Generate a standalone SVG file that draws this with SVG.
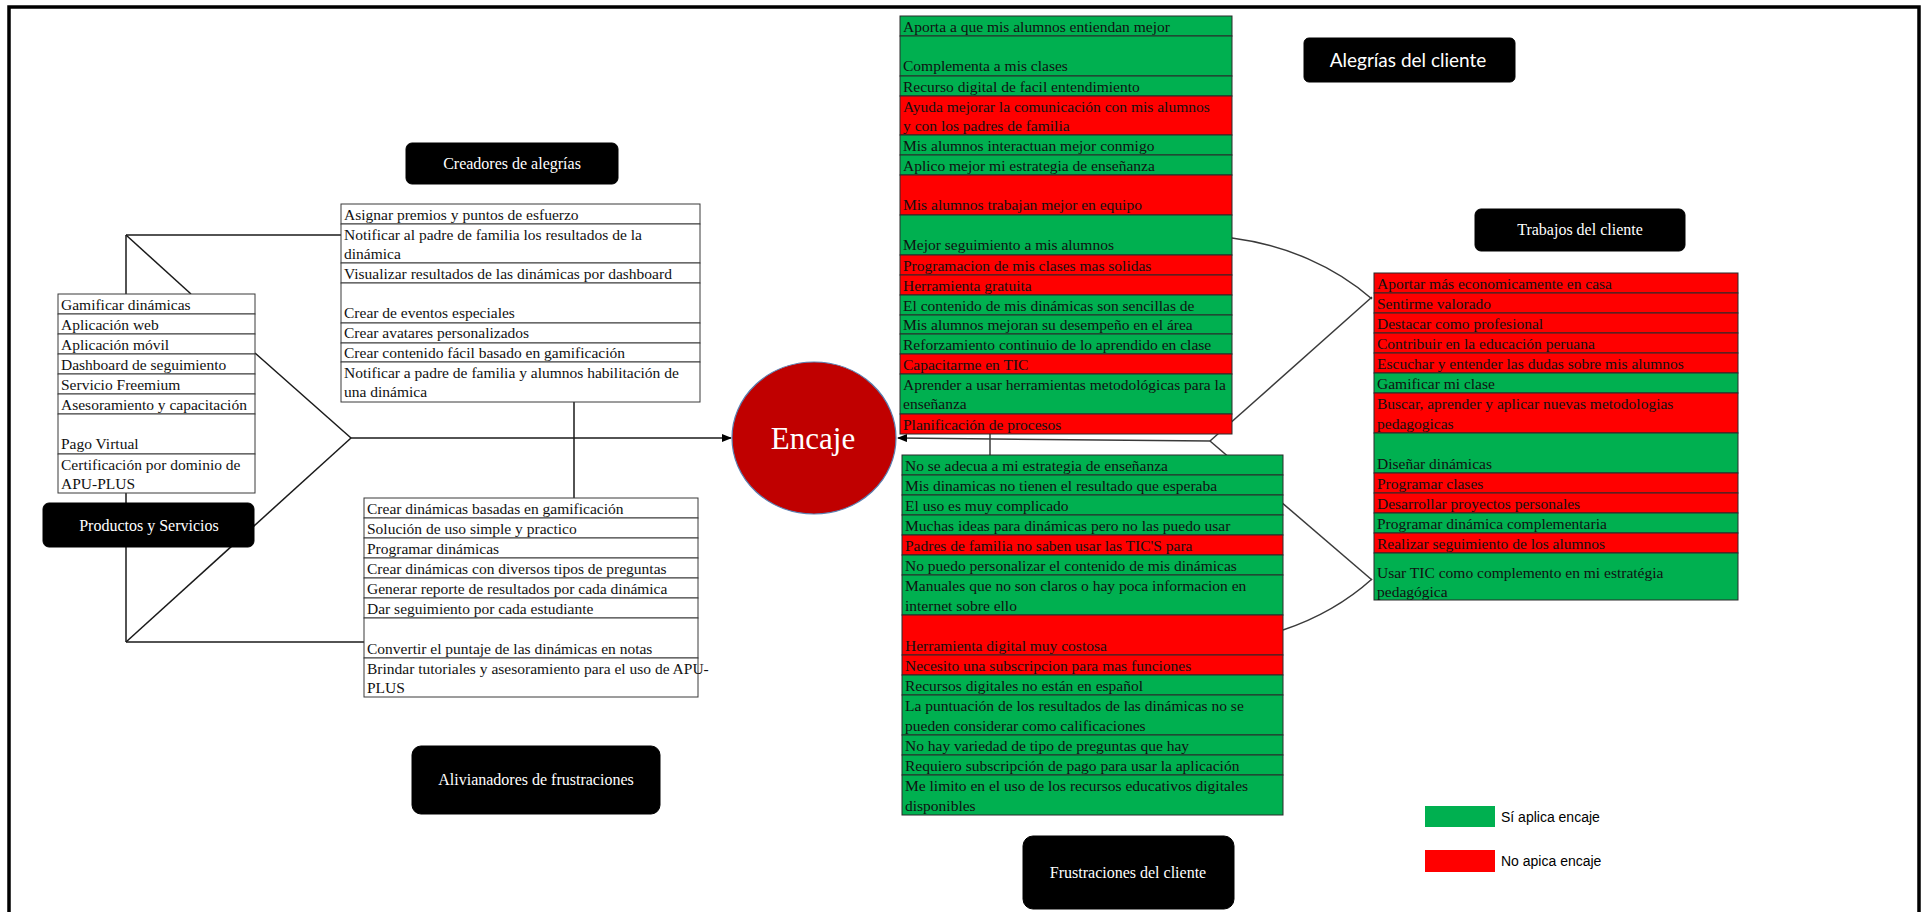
<svg xmlns="http://www.w3.org/2000/svg" width="1926" height="912" viewBox="0 0 1926 912">
<style>
.t{font-family:"Liberation Serif","Times New Roman",serif;font-size:15.5px;fill:#111}
.w{fill:#fff;stroke:#3a3a3a;stroke-width:1}
.g{fill:#00B050;stroke:#2a2a2a;stroke-width:1}
.r{fill:#FF0000;stroke:#2a2a2a;stroke-width:1}
.lab{fill:#000;stroke:#000}
.lt{font-family:"Liberation Serif","Times New Roman",serif;font-size:16px;fill:#fff;text-anchor:middle}
.ls{font-family:Lato,"Open Sans",sans-serif;font-size:19px;fill:#fff;text-anchor:middle}
.ln{fill:none;stroke:#1a1a1a;stroke-width:1.5}
.lg{fill:none;stroke:#3a3a3a;stroke-width:1.5}
.leg{font-family:"Liberation Sans",Arial,sans-serif;font-size:14px;fill:#000}
</style>
<defs>
<marker id="ah" markerWidth="10" markerHeight="8" refX="9" refY="4" orient="auto" markerUnits="userSpaceOnUse">
<path d="M0,0 L10,4 L0,8 z" fill="#000"/>
</marker>
</defs>
<rect width="1926" height="912" fill="#fff"/>
<path d="M9,912 V7 H1919 V912" fill="none" stroke="#000" stroke-width="3.5"/>

<g id="connectors">
<line class="ln" x1="126" y1="235" x2="126" y2="642"/>
<line class="ln" x1="126" y1="235" x2="341" y2="235"/>
<line class="ln" x1="126" y1="235" x2="191" y2="294"/>
<line class="ln" x1="255" y1="353" x2="351" y2="438"/>
<line class="ln" x1="126" y1="642" x2="351" y2="438"/>
<line class="ln" x1="126" y1="642" x2="364" y2="642"/>
<line class="ln" x1="574" y1="402" x2="574" y2="498"/>
<line class="ln" x1="351" y1="438" x2="731" y2="438" marker-end="url(#ah)"/>
<line class="lg" x1="1210" y1="441" x2="898" y2="438" marker-end="url(#ah)"/>
<line class="lg" x1="990" y1="434" x2="990" y2="455"/>
<line class="lg" x1="1210" y1="441" x2="1372" y2="297"/>
<line class="lg" x1="1210" y1="441" x2="1372" y2="580"/>
<path class="lg" d="M1232,238 A246,205 0 0 1 1372,299"/>
<path class="lg" d="M1372,579 A246,205 0 0 1 1283,630"/>
</g>

<g id="encaje">
<ellipse cx="814" cy="438" rx="82" ry="76" fill="#C00000" stroke="#5A7FB0" stroke-width="1.2"/>
<text x="813" y="449" font-family="Liberation Serif,serif" font-size="31" fill="#fff" text-anchor="middle">Encaje</text>
</g>

<g id="creadores-label">
<rect class="lab" x="406" y="143" width="212" height="41" rx="6"/>
<text class="lt" x="512" y="169">Creadores de alegrías</text>
</g>

<g id="productos-label">
<rect class="lab" x="43" y="503" width="211" height="44" rx="6"/>
<text class="lt" x="149" y="531">Productos y Servicios</text>
</g>

<g id="alivianadores-label">
<rect class="lab" x="412" y="746" width="248" height="68" rx="9"/>
<text class="lt" x="536" y="785">Alivianadores de frustraciones</text>
</g>

<g id="alegrias-label">
<rect class="lab" x="1304" y="38" width="211" height="44" rx="5"/>
<text class="ls" x="1408" y="67">Alegrías del cliente</text>
</g>

<g id="trabajos-label">
<rect class="lab" x="1475" y="209" width="210" height="42" rx="6"/>
<text class="lt" x="1580" y="235">Trabajos del cliente</text>
</g>

<g id="frustraciones-label">
<rect class="lab" x="1023" y="836" width="211" height="73" rx="10"/>
<text class="lt" x="1128" y="878">Frustraciones del cliente</text>
</g>

<g id="productos-list">
<rect class="w" x="58" y="294" width="197" height="20"/>
<rect class="w" x="58" y="314" width="197" height="20"/>
<rect class="w" x="58" y="334" width="197" height="20"/>
<rect class="w" x="58" y="354" width="197" height="20"/>
<rect class="w" x="58" y="374" width="197" height="20"/>
<rect class="w" x="58" y="394" width="197" height="20"/>
<rect class="w" x="58" y="414" width="197" height="40"/>
<rect class="w" x="58" y="454" width="197" height="39"/>
<text class="t" x="61" y="309.5">Gamificar dinámicas</text>
<text class="t" x="61" y="329.5">Aplicación web</text>
<text class="t" x="61" y="349.5">Aplicación móvil</text>
<text class="t" x="61" y="369.5">Dashboard de seguimiento</text>
<text class="t" x="61" y="389.5">Servicio Freemium</text>
<text class="t" x="61" y="409.5">Asesoramiento y capacitación</text>
<text class="t" x="61" y="449">Pago Virtual</text>
<text class="t" x="61" y="469.5">Certificación por dominio de</text>
<text class="t" x="61" y="489">APU-PLUS</text>
</g>

<g id="creadores-list">
<rect class="w" x="341" y="204" width="359" height="20"/>
<rect class="w" x="341" y="224" width="359" height="39"/>
<rect class="w" x="341" y="263" width="359" height="20"/>
<rect class="w" x="341" y="283" width="359" height="40"/>
<rect class="w" x="341" y="323" width="359" height="20"/>
<rect class="w" x="341" y="343" width="359" height="19"/>
<rect class="w" x="341" y="362" width="359" height="40"/>
<text class="t" x="344" y="219.5">Asignar premios y puntos de esfuerzo</text>
<text class="t" x="344" y="239.5">Notificar al padre de familia los resultados de la</text>
<text class="t" x="344" y="259">dinámica</text>
<text class="t" x="344" y="278.5">Visualizar resultados de las dinámicas por dashboard</text>
<text class="t" x="344" y="318">Crear de eventos especiales</text>
<text class="t" x="344" y="338">Crear avatares personalizados</text>
<text class="t" x="344" y="357.5">Crear contenido fácil basado en gamificación</text>
<text class="t" x="344" y="377.5">Notificar a padre de familia y alumnos habilitación de</text>
<text class="t" x="344" y="397">una dinámica</text>
</g>

<g id="alivianadores-list">
<rect class="w" x="364" y="498" width="334" height="20"/>
<rect class="w" x="364" y="518" width="334" height="20"/>
<rect class="w" x="364" y="538" width="334" height="20"/>
<rect class="w" x="364" y="558" width="334" height="20"/>
<rect class="w" x="364" y="578" width="334" height="20"/>
<rect class="w" x="364" y="598" width="334" height="20"/>
<rect class="w" x="364" y="618" width="334" height="40"/>
<rect class="w" x="364" y="658" width="334" height="39"/>
<text class="t" x="367" y="513.5">Crear dinámicas basadas en gamificación</text>
<text class="t" x="367" y="533.5">Solución de uso simple y practico</text>
<text class="t" x="367" y="553.5">Programar dinámicas</text>
<text class="t" x="367" y="573.5">Crear dinámicas con diversos tipos de preguntas</text>
<text class="t" x="367" y="593.5">Generar reporte de resultados por cada dinámica</text>
<text class="t" x="367" y="613.5">Dar seguimiento por cada estudiante</text>
<text class="t" x="367" y="653.5">Convertir el puntaje de las dinámicas en notas</text>
<text class="t" x="367" y="673.5">Brindar tutoriales y asesoramiento para el uso de APU-</text>
<text class="t" x="367" y="693">PLUS</text>
</g>

<g id="alegrias-list">
<rect class="g" x="900" y="16" width="332" height="20"/>
<rect class="g" x="900" y="36" width="332" height="40"/>
<rect class="g" x="900" y="76" width="332" height="20"/>
<rect class="r" x="900" y="96" width="332" height="39"/>
<rect class="g" x="900" y="135" width="332" height="20"/>
<rect class="g" x="900" y="155" width="332" height="20"/>
<rect class="r" x="900" y="175" width="332" height="40"/>
<rect class="g" x="900" y="215" width="332" height="40"/>
<rect class="r" x="900" y="255" width="332" height="20"/>
<rect class="r" x="900" y="275" width="332" height="20"/>
<rect class="g" x="900" y="295" width="332" height="20"/>
<rect class="g" x="900" y="315" width="332" height="19"/>
<rect class="g" x="900" y="334" width="332" height="20"/>
<rect class="r" x="900" y="354" width="332" height="20"/>
<rect class="g" x="900" y="374" width="332" height="40"/>
<rect class="r" x="900" y="414" width="332" height="20"/>
<text class="t" x="903" y="31.5">Aporta a que mis alumnos entiendan mejor</text>
<text class="t" x="903" y="71">Complementa a mis clases</text>
<text class="t" x="903" y="91.5">Recurso digital de facil entendimiento</text>
<text class="t" x="903" y="111.5">Ayuda mejorar la comunicación con mis alumnos</text>
<text class="t" x="903" y="131">y con los padres de familia</text>
<text class="t" x="903" y="150.5">Mis alumnos interactuan mejor conmigo</text>
<text class="t" x="903" y="170.5">Aplico mejor mi estrategia de enseñanza</text>
<text class="t" x="903" y="210">Mis alumnos trabajan mejor en equipo</text>
<text class="t" x="903" y="250">Mejor seguimiento a mis alumnos</text>
<text class="t" x="903" y="270.5">Programacion de mis clases mas solidas</text>
<text class="t" x="903" y="290.5">Herramienta gratuita</text>
<text class="t" x="903" y="310.5">El contenido de mis dinámicas son sencillas de</text>
<text class="t" x="903" y="330">Mis alumnos mejoran su desempeño en el área</text>
<text class="t" x="903" y="349.5">Reforzamiento continuio de lo aprendido en clase</text>
<text class="t" x="903" y="369.5">Capacitarme en TIC</text>
<text class="t" x="903" y="389.5">Aprender a usar herramientas metodológicas para la</text>
<text class="t" x="903" y="409">enseñanza</text>
<text class="t" x="903" y="429.5">Planificación de procesos</text>
</g>

<g id="frustraciones-list">
<rect class="g" x="902" y="455" width="381" height="20"/>
<rect class="g" x="902" y="475" width="381" height="20"/>
<rect class="g" x="902" y="495" width="381" height="20"/>
<rect class="g" x="902" y="515" width="381" height="20"/>
<rect class="r" x="902" y="535" width="381" height="20"/>
<rect class="g" x="902" y="555" width="381" height="20"/>
<rect class="g" x="902" y="575" width="381" height="40"/>
<rect class="r" x="902" y="615" width="381" height="40"/>
<rect class="r" x="902" y="655" width="381" height="20"/>
<rect class="g" x="902" y="675" width="381" height="20"/>
<rect class="g" x="902" y="695" width="381" height="40"/>
<rect class="g" x="902" y="735" width="381" height="20"/>
<rect class="g" x="902" y="755" width="381" height="20"/>
<rect class="g" x="902" y="775" width="381" height="40"/>
<text class="t" x="905" y="470.5">No se adecua a mi estrategia de enseñanza</text>
<text class="t" x="905" y="490.5">Mis dinamicas no tienen el resultado que esperaba</text>
<text class="t" x="905" y="510.5">El uso es muy complicado</text>
<text class="t" x="905" y="530.5">Muchas ideas para dinámicas pero no las puedo usar</text>
<text class="t" x="905" y="550.5">Padres de familia no saben usar las TIC'S para</text>
<text class="t" x="905" y="570.5">No puedo personalizar el contenido de mis dinámicas</text>
<text class="t" x="905" y="590.5">Manuales que no son claros o hay poca informacion en</text>
<text class="t" x="905" y="610.5">internet sobre ello</text>
<text class="t" x="905" y="650.5">Herramienta digital muy costosa</text>
<text class="t" x="905" y="670.5">Necesito una subscripcion para mas funciones</text>
<text class="t" x="905" y="690.5">Recursos digitales no están en español</text>
<text class="t" x="905" y="710.5">La puntuación de los resultados de las dinámicas no se</text>
<text class="t" x="905" y="730.5">pueden considerar como calificaciones</text>
<text class="t" x="905" y="750.5">No hay variedad de tipo de preguntas que hay</text>
<text class="t" x="905" y="770.5">Requiero subscripción de pago para usar la aplicación</text>
<text class="t" x="905" y="790.5">Me limito en el uso de los recursos educativos digitales</text>
<text class="t" x="905" y="810.5">disponibles</text>
</g>

<g id="trabajos-list">
<rect class="r" x="1374" y="273" width="364" height="20"/>
<rect class="r" x="1374" y="293" width="364" height="20"/>
<rect class="r" x="1374" y="313" width="364" height="20"/>
<rect class="r" x="1374" y="333" width="364" height="20"/>
<rect class="r" x="1374" y="353" width="364" height="20"/>
<rect class="g" x="1374" y="373" width="364" height="20"/>
<rect class="r" x="1374" y="393" width="364" height="40"/>
<rect class="g" x="1374" y="433" width="364" height="40"/>
<rect class="r" x="1374" y="473" width="364" height="20"/>
<rect class="r" x="1374" y="493" width="364" height="20"/>
<rect class="g" x="1374" y="513" width="364" height="20"/>
<rect class="r" x="1374" y="533" width="364" height="20"/>
<rect class="g" x="1374" y="553" width="364" height="47"/>
<text class="t" x="1377" y="288.5">Aportar más economicamente en casa</text>
<text class="t" x="1377" y="308.5">Sentirme valorado</text>
<text class="t" x="1377" y="328.5">Destacar como profesional</text>
<text class="t" x="1377" y="348.5">Contribuir en la educación peruana</text>
<text class="t" x="1377" y="368.5">Escuchar y entender las dudas sobre mis alumnos</text>
<text class="t" x="1377" y="388.5">Gamificar mi clase</text>
<text class="t" x="1377" y="408.5">Buscar, aprender y aplicar nuevas metodologias</text>
<text class="t" x="1377" y="428.5">pedagogicas</text>
<text class="t" x="1377" y="468.5">Diseñar dinámicas</text>
<text class="t" x="1377" y="488.5">Programar clases</text>
<text class="t" x="1377" y="508.5">Desarrollar proyectos personales</text>
<text class="t" x="1377" y="528.5">Programar dinámica complementaria</text>
<text class="t" x="1377" y="548.5">Realizar seguimiento de los alumnos</text>
<text class="t" x="1377" y="578">Usar TIC como complemento en mi estratégia</text>
<text class="t" x="1377" y="597">pedagógica</text>
</g>

<g id="legend">
<rect x="1425" y="806" width="70" height="21" fill="#00B050"/>
<text class="leg" x="1501" y="822">Sí aplica encaje</text>
<rect x="1425" y="850" width="70" height="22" fill="#FF0000"/>
<text class="leg" x="1501" y="866">No apica encaje</text>
</g>
</svg>
